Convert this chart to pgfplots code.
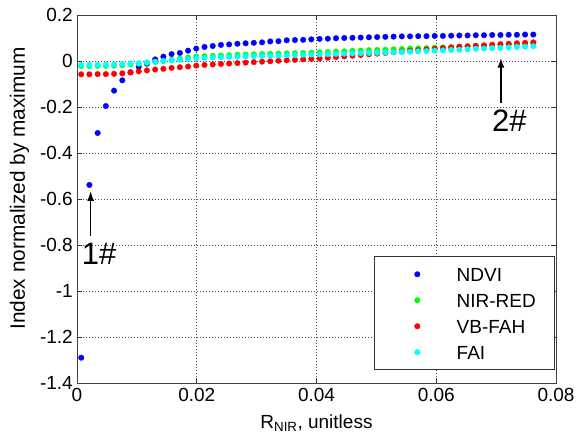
\documentclass[border=0pt]{standalone}
\usepackage{pgfplots}
\pgfplotsset{compat=1.18}
\usepackage{pgfplotstable}
\usetikzlibrary{arrows.meta}
\usepackage{fontspec}
\setmainfont{Liberation Sans}
\newcommand{\tf}{\fontsize{19}{22}\selectfont}
\definecolor{mblue}{rgb}{0,0,1}
\definecolor{mgreen}{rgb}{0,1,0}
\definecolor{mred}{rgb}{1,0,0}
\definecolor{mcyan}{rgb}{0,1,1}
\pgfplotstableread{
x ndvi nir vb fai
0.00070 -1.290 -0.022 -0.058 -0.017
0.00207 -0.539 -0.022 -0.058 -0.017
0.00345 -0.313 -0.021 -0.057 -0.016
0.00482 -0.196 -0.021 -0.057 -0.016
0.00619 -0.129 -0.020 -0.056 -0.015
0.00757 -0.084 -0.018 -0.054 -0.013
0.00894 -0.049 -0.015 -0.050 -0.011
0.01031 -0.025 -0.012 -0.045 -0.009
0.01168 -0.012 -0.008 -0.041 -0.006
0.01306 0.007 -0.004 -0.037 -0.004
0.01443 0.019 0.000 -0.034 -0.001
0.01580 0.030 0.005 -0.030 0.002
0.01718 0.035 0.010 -0.027 0.005
0.01855 0.045 0.015 -0.024 0.008
0.01992 0.054 0.019 -0.020 0.011
0.02130 0.061 0.021 -0.017 0.013
0.02267 0.065 0.022 -0.015 0.015
0.02404 0.070 0.024 -0.013 0.016
0.02541 0.072 0.025 -0.011 0.018
0.02679 0.075 0.027 -0.009 0.019
0.02816 0.077 0.028 -0.007 0.020
0.02953 0.079 0.029 -0.005 0.021
0.03091 0.081 0.030 -0.003 0.022
0.03228 0.085 0.031 -0.001 0.023
0.03365 0.086 0.032 0.001 0.024
0.03503 0.090 0.033 0.003 0.025
0.03640 0.091 0.034 0.005 0.026
0.03777 0.092 0.035 0.007 0.027
0.03914 0.094 0.036 0.009 0.028
0.04052 0.096 0.038 0.011 0.029
0.04189 0.097 0.039 0.014 0.030
0.04326 0.099 0.041 0.017 0.031
0.04464 0.100 0.042 0.020 0.032
0.04601 0.101 0.044 0.023 0.033
0.04738 0.102 0.045 0.026 0.034
0.04876 0.103 0.047 0.029 0.035
0.05013 0.104 0.048 0.032 0.036
0.05150 0.105 0.049 0.035 0.037
0.05287 0.106 0.051 0.038 0.038
0.05425 0.107 0.052 0.041 0.039
0.05562 0.107 0.054 0.044 0.040
0.05699 0.108 0.055 0.047 0.042
0.05837 0.108 0.056 0.050 0.043
0.05974 0.109 0.058 0.053 0.045
0.06111 0.109 0.059 0.056 0.046
0.06249 0.110 0.060 0.059 0.048
0.06386 0.111 0.062 0.062 0.049
0.06523 0.111 0.063 0.064 0.051
0.06660 0.112 0.065 0.066 0.053
0.06798 0.112 0.066 0.068 0.054
0.06935 0.113 0.068 0.071 0.056
0.07072 0.113 0.070 0.073 0.057
0.07210 0.114 0.071 0.075 0.059
0.07347 0.114 0.073 0.077 0.061
0.07484 0.115 0.075 0.079 0.062
0.07621 0.115 0.077 0.081 0.064
}\datatable
\begin{document}
\begin{tikzpicture}
\begin{axis}[
  name=ax,
  scale only axis,
  width=479pt, height=368pt,
  xmin=0, xmax=0.08, ymin=-1.4, ymax=0.2,
  scaled x ticks=false, scaled y ticks=false,
  xtick={0,0.02,0.04,0.06,0.08},
  xticklabels={0,0.02,0.04,0.06,0.08},
  ytick={-1.4,-1.2,-1,-0.8,-0.6,-0.4,-0.2,0,0.2},
  yticklabels={-1.4,-1.2,-1,-0.8,-0.6,-0.4,-0.2,0,0.2},
  tick label style={font=\tf},
  xticklabel style={anchor=north, inner sep=0pt, yshift=-5pt},
  yticklabel style={anchor=east, inner sep=0pt, xshift=-4pt},
  tick align=inside,
  tick pos=both,
  major tick length=5pt,
  tick style={black!80, line width=0.6pt},
  axis line style={black!75, line width=0.8pt},
  grid=major,
  major grid style={black!70, line width=0.7pt, dash pattern=on 1pt off 2pt},
  every axis x label/.style={at={(axis description cs:0.5,-0.1223)}, anchor=base, font=\tf},
  every axis y label/.style={at={(axis description cs:-0.1086,0.5285)}, rotate=90, anchor=base, font=\fontsize{20.8}{24}\selectfont},
  xlabel={R\textsubscript{NIR}, unitless},
  ylabel={Index normalized by maximum},
  legend cell align=left,
  legend style={at={(axis description cs:0.998,0.035)}, anchor=south east,
    draw=black!80, line width=0.7pt, fill=white, inner xsep=0pt, inner ysep=4.5pt,
    font=\tf, column sep=29pt,
    nodes={inner xsep=0pt, inner ysep=6.2pt, text height=13.6pt, text depth=0pt}},
  legend image code/.code={\path (-43pt,0pt) (10pt,0pt); \draw[#1] plot coordinates {(0pt,0pt)};},
]
\addplot[only marks, mark=*, mark size=2.8pt, mark options={draw=mblue, fill=mblue, line width=0.3pt}] table[x=x,y=ndvi]{\datatable};
\addlegendentry{\makebox[98pt][l]{NDVI}}
\addplot[only marks, mark=*, mark size=2.8pt, mark options={draw=mgreen, fill=mgreen, line width=0.3pt}] table[x=x,y=nir]{\datatable};
\addlegendentry{\makebox[98pt][l]{NIR-RED}}
\addplot[only marks, mark=*, mark size=2.8pt, mark options={draw=mred, fill=mred, line width=0.3pt}] table[x=x,y=vb]{\datatable};
\addlegendentry{\makebox[98pt][l]{VB-FAH}}
\addplot[only marks, mark=*, mark size=2.8pt, mark options={draw=mcyan, fill=mcyan, line width=0.3pt}] table[x=x,y=fai]{\datatable};
\addlegendentry{\makebox[98pt][l]{FAI}}
\draw[line width=1.5pt, -{Latex[length=10pt,width=7pt]}] (axis cs:0.00228,-0.761) -- (axis cs:0.00228,-0.565);
\draw[line width=1.5pt, -{Latex[length=10pt,width=7pt]}] (axis cs:0.0708,-0.181) -- (axis cs:0.0708,0.0143);
\node[font=\fontsize{31}{36}\selectfont, inner sep=0pt] at (axis cs:0.0037,-0.839) {1\#};
\node[font=\fontsize{31}{36}\selectfont, inner sep=0pt] at (axis cs:0.0722,-0.261) {2\#};
\end{axis}
\pgfresetboundingbox
\path[use as bounding box] ([xshift=-77pt,yshift=-57pt]ax.south west) rectangle ([xshift=21pt,yshift=15pt]ax.north east);
\end{tikzpicture}
\end{document}
